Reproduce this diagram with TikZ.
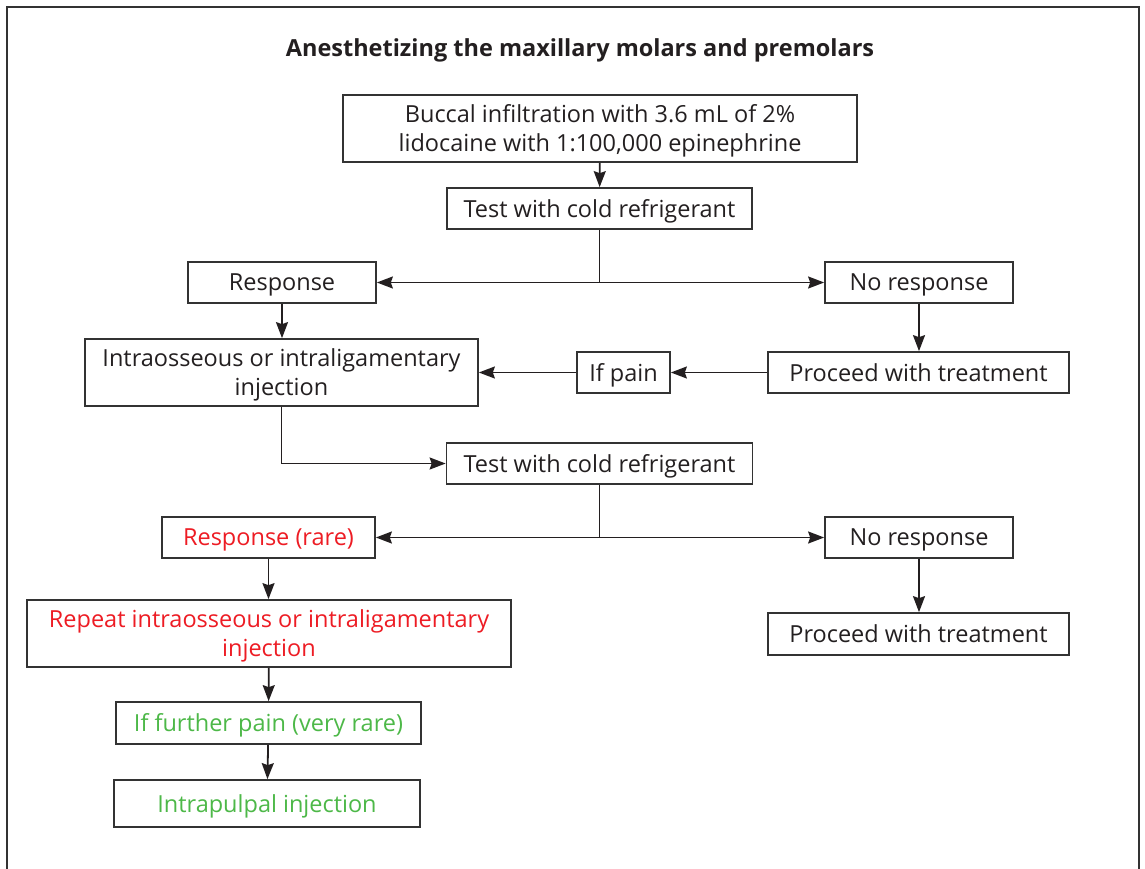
\documentclass[tikz,border=0pt]{standalone}
\usepackage{fontspec}
\setmainfont{Open Sans}
\usetikzlibrary{arrows.meta}

\definecolor{inkgray}{HTML}{231F20}
\definecolor{linegray}{HTML}{333333}
\definecolor{warnred}{HTML}{ED1C24}
\definecolor{okgreen}{HTML}{4DB848}

\tikzset{
  stepbox/.style={draw=linegray, line width=1.7pt, rectangle, align=center,
                  inner sep=0pt, text depth=-4pt, text=inkgray,
                  font=\fontsize{23.5}{29}\selectfont},
  arr/.style={-{Stealth[length=16pt,width=12pt,inset=2pt]}, draw=inkgray, line width=1.8pt},
  link/.style={draw=inkgray, line width=1.8pt}
}

\begin{document}
\begin{tikzpicture}[x=1pt, y=-1pt]
  \useasboundingbox (0,0) rectangle (1145,869);
  % frame
  \draw[linegray, line width=2pt] (7,869) -- (7,7) -- (1139,7) -- (1139,869);

  \node (title) at (580,50) [text=inkgray, font=\fontsize{23.5}{28}\selectfont\bfseries]
        {Anesthetizing the maxillary molars and premolars};

  % first round
  \node[stepbox, minimum width=514pt, minimum height=67pt] (buccal) at (600,128.5)
        {Buccal infiltration with 3.6 mL of 2\%\\lidocaine with 1:100,000 epinephrine};
  \node[stepbox, minimum width=305pt, minimum height=41pt] (test1) at (599.5,208.5)
        {Test with cold refrigerant};
  \node[stepbox, minimum width=188pt, minimum height=41pt] (resp1) at (282,282.5)
        {Response};
  \node[stepbox, minimum width=188pt, minimum height=41pt] (nores1) at (919,282.5)
        {No response};
  \node[stepbox, minimum width=393pt, minimum height=67pt] (intra) at (281.5,372.5)
        {Intraosseous or intraligamentary\\injection};
  \node[stepbox, minimum width=93pt, minimum height=41pt] (ifpain) at (623.5,372.5)
        {If pain};
  \node[stepbox, minimum width=301pt, minimum height=41pt] (proc1) at (918.5,372.5)
        {Proceed with treatment};

  % second round
  \node[stepbox, minimum width=306pt, minimum height=41pt] (test2) at (599.5,463.5)
        {Test with cold refrigerant};
  \node[stepbox, minimum width=213pt, minimum height=41pt, text=warnred] (resp2) at (268.5,537.5)
        {Response (rare)};
  \node[stepbox, minimum width=188pt, minimum height=41pt] (nores2) at (919,537.5)
        {No response};
  \node[stepbox, minimum width=484pt, minimum height=67pt, text=warnred] (repeat) at (269,633.5)
        {Repeat intraosseous or intraligamentary\\injection};
  \node[stepbox, minimum width=301pt, minimum height=42pt] (proc2) at (918.5,634)
        {Proceed with treatment};
  \node[stepbox, minimum width=305pt, minimum height=42pt, text=okgreen] (further) at (268.5,723)
        {If further pain (very rare)};
  \node[stepbox, minimum width=306pt, minimum height=47pt, text=okgreen] (pulpal) at (267,803.5)
        {Intrapulpal injection};

  \coordinate (j1) at (test1.south |- resp1.east);
  \coordinate (j2) at (test2.south |- resp2.east);

  \draw[arr] (buccal) -- (test1);
  \draw[link] (test1.south) -- (j1);
  \draw[arr] (j1) -- (resp1.east);
  \draw[arr] (j1) -- (nores1.west);
  \draw[arr] (resp1) -- (resp1 |- intra.north);
  \draw[arr] (nores1) -- (nores1 |- proc1.north);
  \draw[arr] (proc1) -- (ifpain);
  \draw[arr] (ifpain) -- (intra);
  \draw[arr] (intra.south) |- (test2.west);

  \draw[link] (test2.south) -- (j2);
  \draw[arr] (j2) -- (resp2.east);
  \draw[arr] (j2) -- (nores2.west);
  \draw[arr] (resp2) -- (resp2 |- repeat.north);
  \draw[arr] (nores2) -- (nores2 |- proc2.north);
  \draw[arr] (repeat) -- (further);
  \draw[arr] (further) -- (pulpal);
\end{tikzpicture}
\end{document}
